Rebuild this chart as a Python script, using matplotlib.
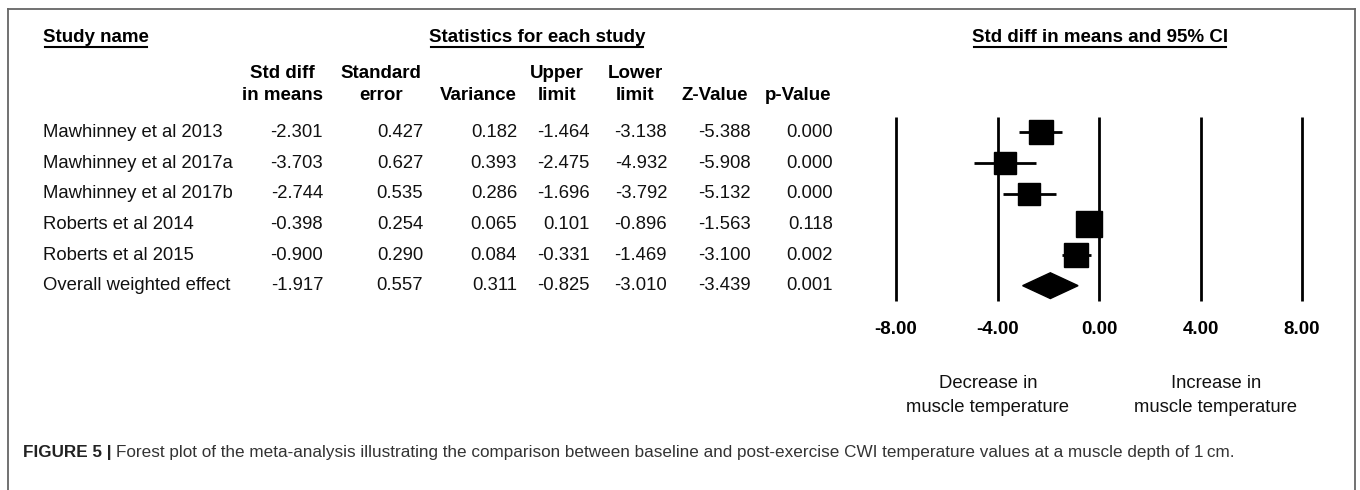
import matplotlib
matplotlib.use('Agg')
import matplotlib.pyplot as plt
import numpy as np

plt.rcParams['font.family'] = ['Liberation Sans', 'DejaVu Sans']

# данные из таблицы
studies = ['Mawhinney et al 2013', 'Mawhinney et al 2017a', 'Mawhinney et al 2017b',
           'Roberts et al 2014', 'Roberts et al 2015', 'Overall weighted effect']
std_diff = [-2.301, -3.703, -2.744, -0.398, -0.900, -1.917]
std_err = [0.427, 0.627, 0.535, 0.254, 0.290, 0.557]
variance = [0.182, 0.393, 0.286, 0.065, 0.084, 0.311]
upper = [-1.464, -2.475, -1.696, 0.101, -0.331, -0.825]
lower = [-3.138, -4.932, -3.792, -0.896, -1.469, -3.010]
z_val = [-5.388, -5.908, -5.132, -1.563, -3.100, -3.439]
p_val = [0.000, 0.000, 0.000, 0.118, 0.002, 0.001]
ticks = [-8, -4, 0, 4, 8]

W, H = 1360, 490
fig = plt.figure(figsize=(W / 100, H / 100), dpi=100)

# фон-оси в пикселях для текста
bg = fig.add_axes([0, 0, 1, 1])
bg.set_xlim(0, W)
bg.set_ylim(H, 0)
bg.axis('off')

# рамка (без нижней стороны)
frame_c = '#666666'
bg.plot([8, 8], [H, 9], color=frame_c, lw=1.3)
bg.plot([8, 1355], [9, 9], color=frame_c, lw=1.3)
bg.plot([1355, 1355], [9, H], color=frame_c, lw=1.3)

fs = 13.3
fsb = 13.5
txt_c = '#111111'
top, bot = 117, 301
n = len(studies)
row_h = (bot - top) / n
row_y = [top + (i + 0.5) * row_h for i in range(n)]

# заголовки
titles = [('Study name', 43, 'left'), ('Statistics for each study', 537, 'center'),
          ('Std diff in means and 95% CI', 1100, 'center')]
title_objs = []
for txt, x, ha in titles:
    t = bg.text(x, 37, txt, ha=ha, va='center', fontsize=fsb, fontweight='bold')
    title_objs.append(t)

headers = [('Std diff', 'in means'), ('Standard', 'error'), ('', 'Variance'),
           ('Upper', 'limit'), ('Lower', 'limit'), ('', 'Z-Value'), ('', 'p-Value')]
head_x = [282, 381, 478, 557, 635, 715, 798]
val_x = [323, 423, 517, 590, 667, 751, 833]
for (h1, h2), x in zip(headers, head_x):
    bg.text(x, 73, h1, ha='center', va='center', fontsize=fsb, fontweight='bold')
    bg.text(x, 95, h2, ha='center', va='center', fontsize=fsb, fontweight='bold')

cols = [std_diff, std_err, variance, upper, lower, z_val, p_val]
for i, name in enumerate(studies):
    bg.text(43, row_y[i], name, ha='left', va='center', fontsize=fs, color=txt_c)
    for col, x in zip(cols, val_x):
        bg.text(x, row_y[i], f'{col[i]:.3f}', ha='right', va='center', fontsize=fs,
                color=txt_c)

# подписи под осью
bg.text(988, 383, 'Decrease in', ha='center', va='center', fontsize=fs, color=txt_c)
bg.text(988, 407, 'muscle temperature', ha='center', va='center', fontsize=fs, color=txt_c)
bg.text(1216, 383, 'Increase in', ha='center', va='center', fontsize=fs, color=txt_c)
bg.text(1216, 407, 'muscle temperature', ha='center', va='center', fontsize=fs, color=txt_c)

# подпись рисунка
cap1 = bg.text(23, 452, 'FIGURE 5 |', ha='left', va='center', fontsize=12.3,
               fontweight='bold', color='#222222')
bg.annotate('Forest plot of the meta-analysis illustrating the comparison between baseline '
            'and post-exercise CWI temperature values at a muscle depth of 1\u2009cm.',
            xy=(1, 0), xycoords=cap1, xytext=(3, 0), textcoords='offset points',
            ha='left', va='bottom', fontsize=12.3, color='#333333')

# forest plot
ax = fig.add_axes([896 / W, (H - bot) / H, 406 / W, (bot - top) / H])
ax.set_xlim(-8, 8)
ax.set_ylim(n - 0.5, -0.5)
ax.axis('off')
ax.vlines(ticks, -0.5, n - 0.5, color='black', lw=2, clip_on=False)
for t in ticks:
    ax.text(t, n - 0.5 + 29 / row_h, f'{t:.2f}', ha='center', va='center',
            fontsize=fsb, fontweight='bold', clip_on=False)

for i in range(n - 1):
    ax.hlines(i, lower[i], upper[i], color='black', lw=2, clip_on=False)
    size_px = 20 + 1.3 * np.sqrt(1 / variance[i])
    ax.plot(std_diff[i], i, marker='s', color='black', markersize=size_px * 0.72,
            clip_on=False)

k = n - 1
dh = 0.42
ax.fill([lower[k], std_diff[k], upper[k], std_diff[k]], [k, k - dh, k, k + dh],
        color='black', clip_on=False)

# подчеркивания заголовков
fig.canvas.draw()
r = fig.canvas.get_renderer()
inv = bg.transData.inverted()
for t in title_objs:
    bb = t.get_window_extent(r)
    x0, _ = inv.transform((bb.x0, bb.y0))
    x1, _ = inv.transform((bb.x1, bb.y0))
    bg.plot([x0 + 2, x1 - 2], [47, 47], color='black', lw=1.5)

fig.savefig('out.png', dpi=100)
